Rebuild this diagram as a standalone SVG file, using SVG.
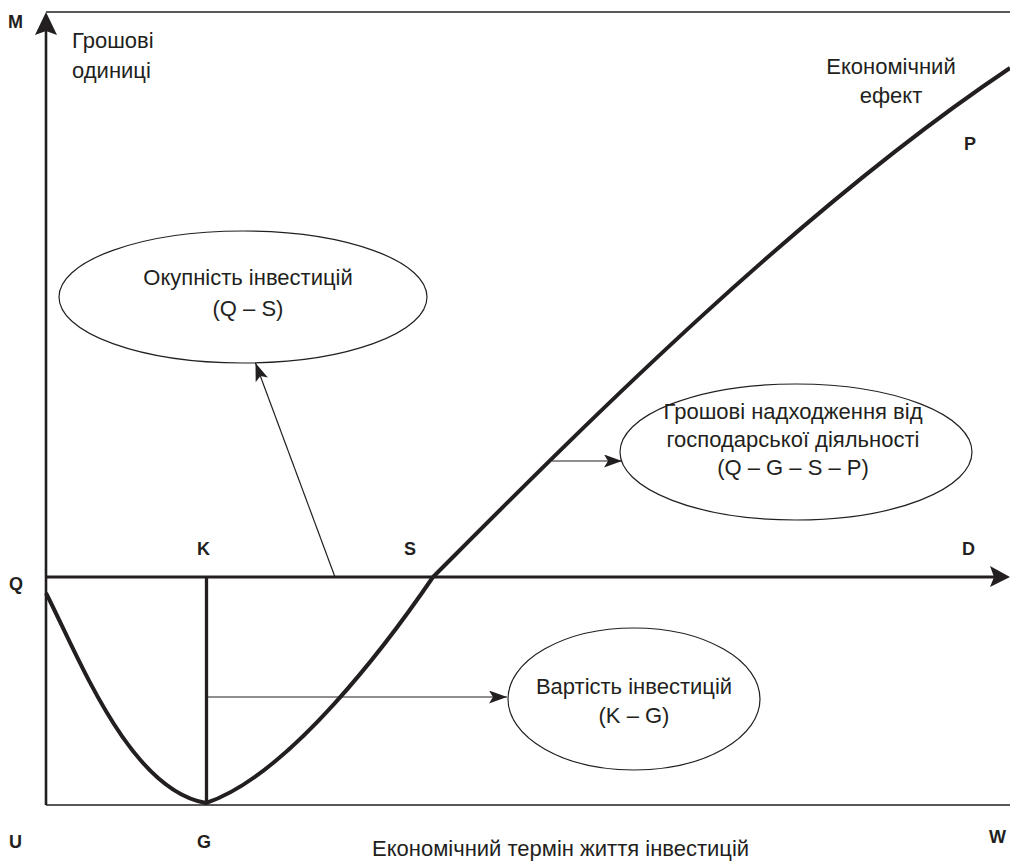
<svg xmlns="http://www.w3.org/2000/svg" width="1010" height="861" viewBox="0 0 1010 861">
<style>
.t{font-family:"Liberation Sans",Arial,sans-serif;font-size:22px;fill:#231f20}
.b{font-family:"Liberation Sans",Arial,sans-serif;font-size:18px;font-weight:bold;fill:#231f20}
.m{text-anchor:middle}
.ell{fill:none;stroke:#231f20;stroke-width:1.2}
.thin{fill:none;stroke:#231f20;stroke-width:1.2}
.axis{fill:none;stroke:#231f20}
.curve{fill:none;stroke:#231f20;stroke-width:4;stroke-linejoin:round}
</style>
<defs>
<marker id="ah" markerUnits="userSpaceOnUse" markerWidth="20" markerHeight="14" refX="18" refY="6.5" orient="auto">
<path d="M0,0 L18,6.5 L0,13 L4,6.5 z" fill="#231f20"/>
</marker>
</defs>
<rect width="1010" height="861" fill="#fff"/>
<g id="frame">
<line class="axis" x1="46" y1="12" x2="1010" y2="12" stroke-width="1.6"/>
<line class="axis" x1="46" y1="805" x2="1010" y2="805" stroke-width="1.6"/>
<line class="axis" x1="46" y1="805" x2="46" y2="30" stroke-width="2.6"/>
<path d="M46,12 L57,35 L46,31 L35,35 z" fill="#231f20"/>
<line class="axis" x1="46" y1="577" x2="995" y2="577" stroke-width="3"/>
<path d="M1010,577 L990,587 L994,577 L990,566 z" fill="#231f20"/>
<line class="axis" x1="206.5" y1="577" x2="206.5" y2="803" stroke-width="3.3"/>
</g>
<g id="curve">
<path class="curve" d="M46,593 C80,660 130,790 206,803 C290,775 390,640 433,577 C560,450 790,215 1010,68"/>
</g>
<g id="connectors">
<line class="thin" x1="335" y1="577" x2="255.5" y2="363" marker-end="url(#ah)"/>
<line class="thin" x1="552" y1="461" x2="622" y2="461" marker-end="url(#ah)"/>
<line class="thin" x1="207" y1="697" x2="507" y2="697" marker-end="url(#ah)"/>
</g>
<g id="node-okupnist">
<ellipse class="ell" cx="243" cy="297" rx="184" ry="66"/>
<text class="t m" x="248" y="285">Окупність інвестицій</text>
<text class="t m" x="248" y="316">(Q – S)</text>
</g>
<g id="node-groshovi">
<ellipse class="ell" cx="796" cy="452" rx="176" ry="68"/>
<text class="t m" x="793" y="419">Грошові надходження від</text>
<text class="t m" x="793" y="447">господарської діяльності</text>
<text class="t m" x="793" y="475">(Q – G – S – P)</text>
</g>
<g id="node-vartist">
<ellipse class="ell" cx="634" cy="699" rx="126" ry="71"/>
<text class="t m" x="634" y="694">Вартість інвестицій</text>
<text class="t m" x="634" y="723">(K – G)</text>
</g>
<g id="labels">
<text class="b" x="8" y="28">M</text>
<text class="t" x="72" y="48">Грошові</text>
<text class="t" x="72" y="78">одиниці</text>
<text class="t m" x="891" y="74">Економічний</text>
<text class="t m" x="891" y="103">ефект</text>
<text class="b" x="964" y="150">P</text>
<text class="b" x="9" y="590">Q</text>
<text class="b" x="197" y="555">K</text>
<text class="b" x="404" y="555">S</text>
<text class="b" x="962" y="555">D</text>
<text class="b" x="9" y="848">U</text>
<text class="b" x="197" y="848">G</text>
<text class="b" x="989" y="843">W</text>
<text class="t" x="372" y="856">Економічний термін життя інвестицій</text>
</g>
</svg>
